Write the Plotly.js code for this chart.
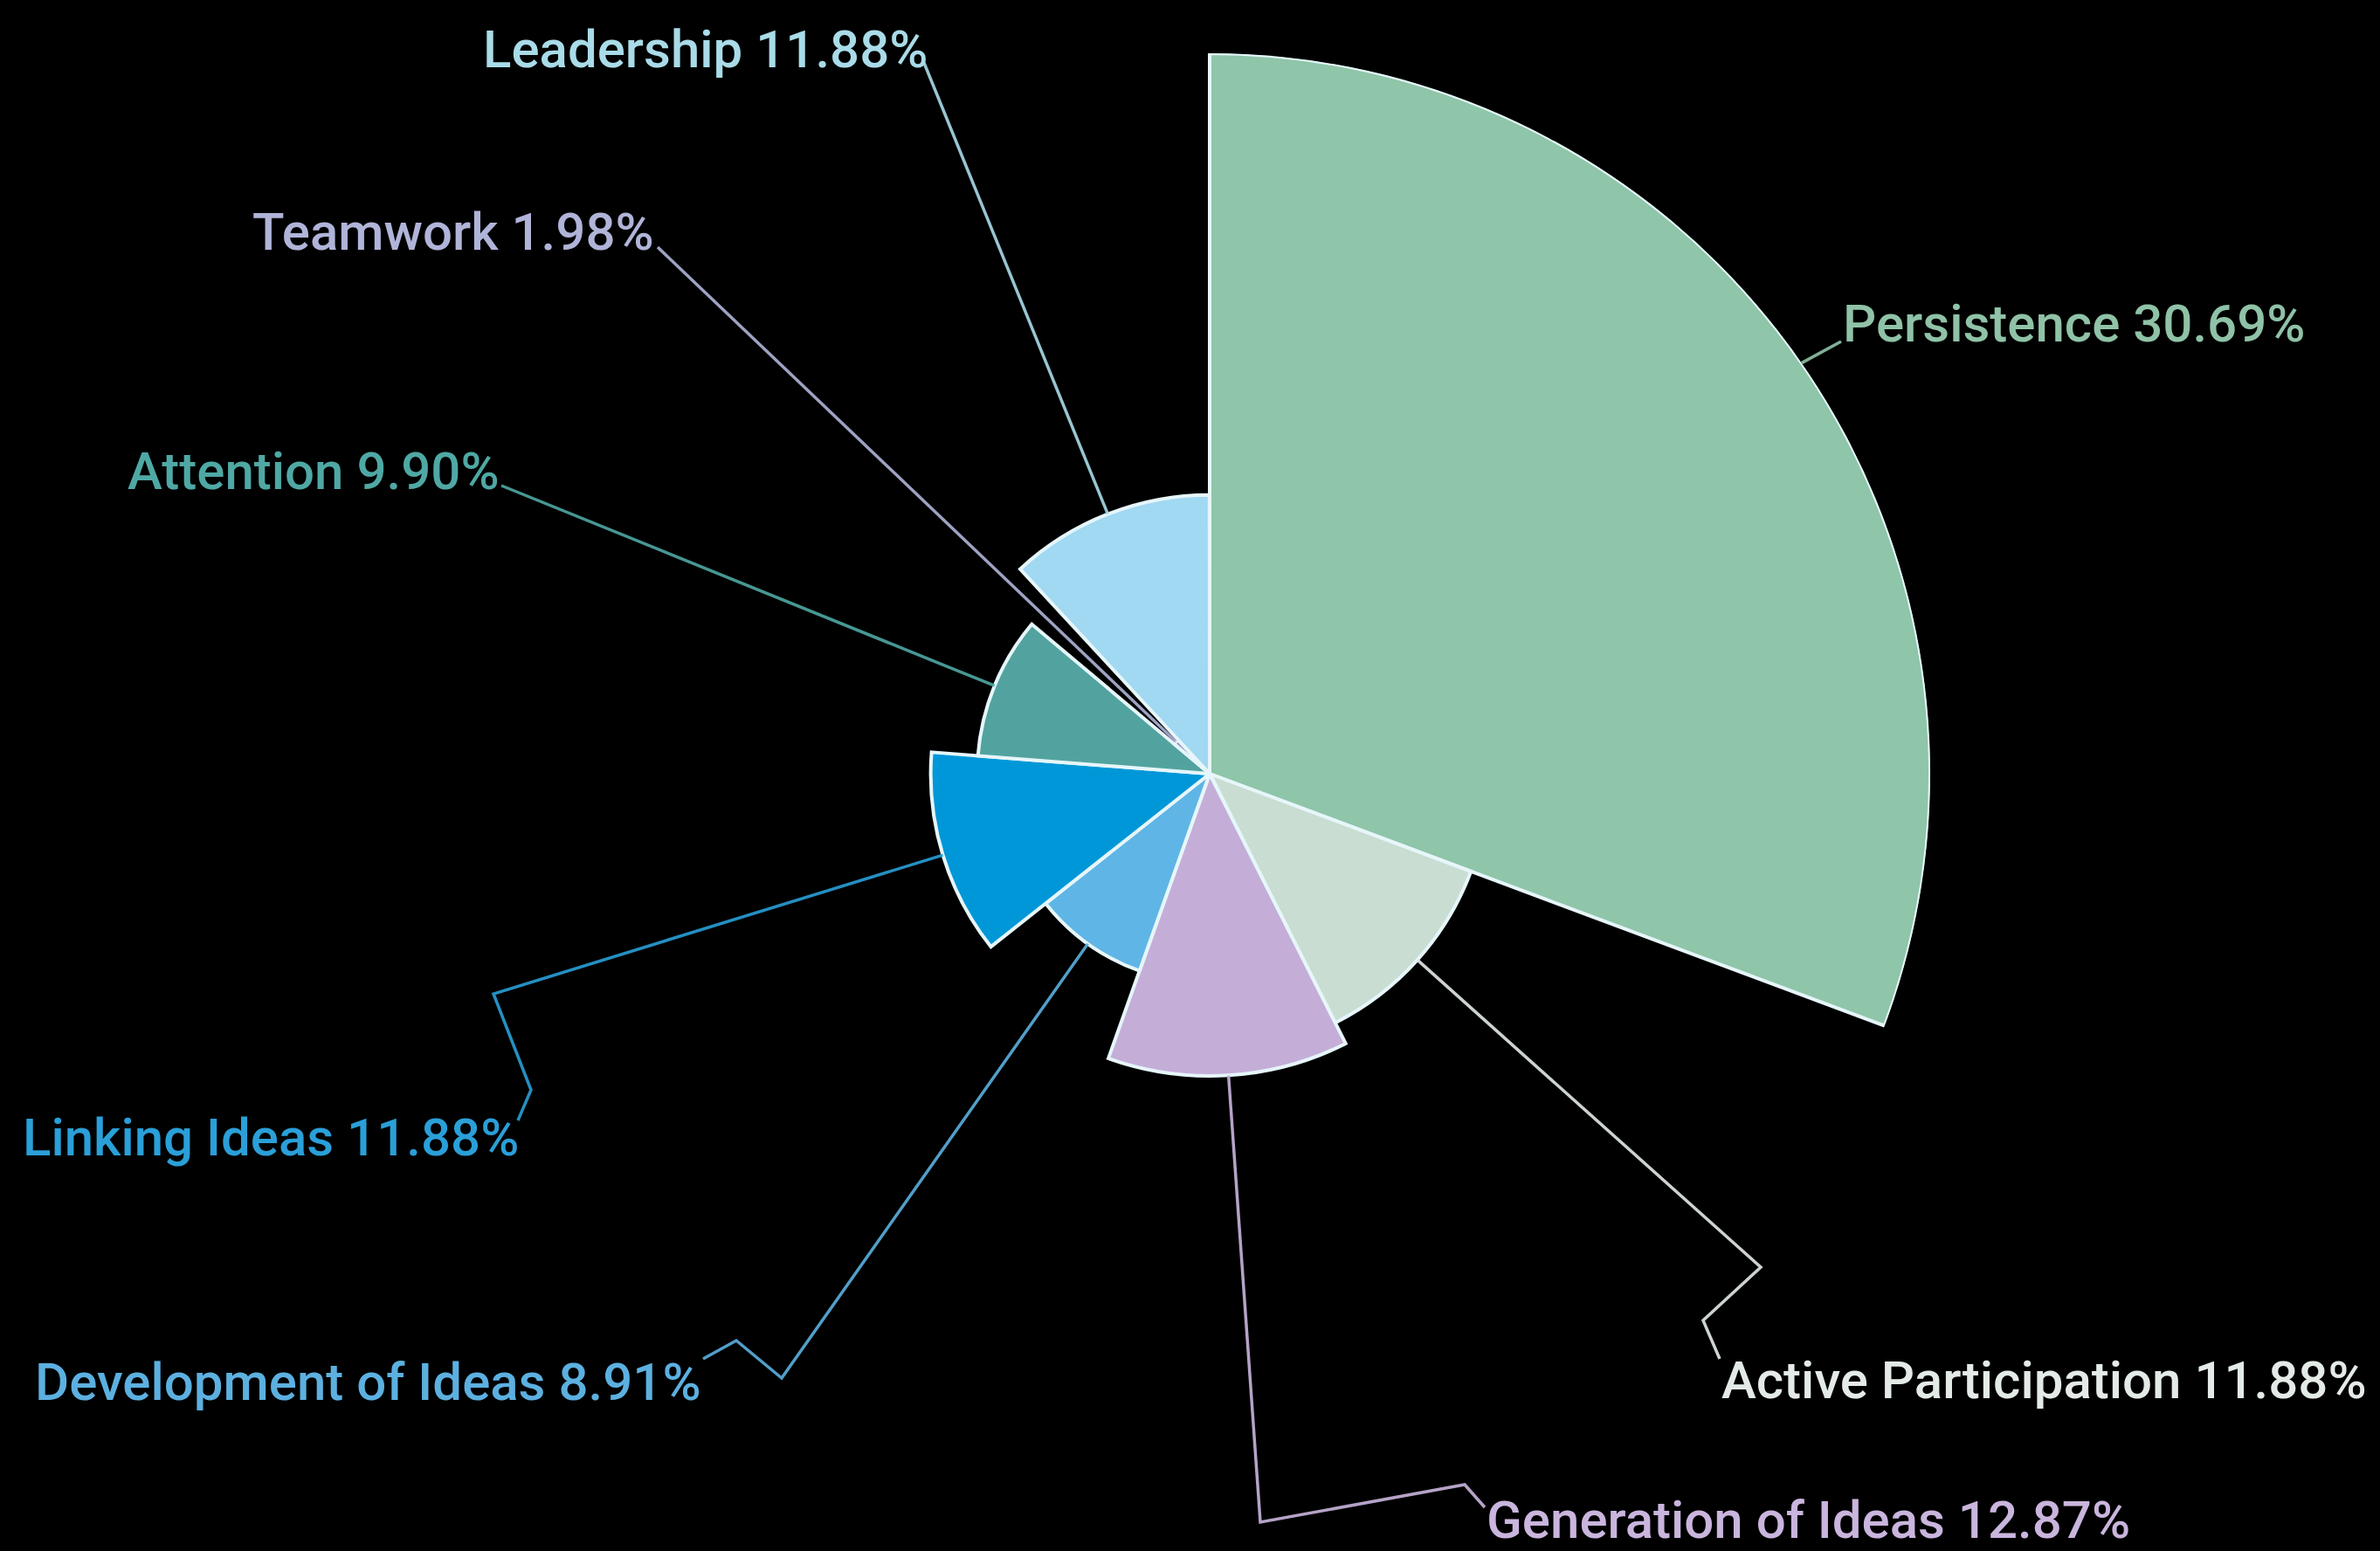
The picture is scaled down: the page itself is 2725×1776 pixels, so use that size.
<!DOCTYPE html>
<html>
<head>
<meta charset="utf-8">
<script src="https://cdn.plot.ly/plotly-3.0.1.min.js"></script>
<style>html,body{margin:0;padding:0;background:#000;}#chart{width:2725px;height:1776px;}</style>
</head>
<body>
<div id="chart"></div>
<script>
// ---- data ----
var categories = ["Persistence", "Active Participation", "Generation of Ideas", "Development of Ideas", "Linking Ideas", "Attention", "Teamwork", "Leadership"];
var percents = [30.69, 11.88, 12.87, 8.91, 11.88, 9.90, 1.98, 11.88];
var sliceColors = ["#8fc5a9", "#c9ddd2", "#c4aed8", "#5fb5e5", "#0097d8", "#52a39f", "#9b9cc4", "#a1d8f2"];
var labelColors = ["#8fc2a7", "#e4ebe7", "#c9b5dd", "#5cb0e0", "#2a9fd8", "#4fa8a4", "#b0b4d8", "#a9dbe8"];

// ---- layout constants ----
var W = 2725, H = 1776;
var CX = 1385, CY = 886, RPX = 825;   // polar centre & radius in px
var rMax = Math.max.apply(null, percents);

// angles: width proportional to percent, clockwise from 12 o'clock
var widths = percents.map(function (p) { return p * 3.6; });
var centers = [];
var acc = 0;
widths.forEach(function (w) { centers.push(acc + w / 2); acc += w; });

function px(x) { return x / W; }
function py(y) { return 1 - y / H; }
function polarToPx(r, thetaDeg) {
  var a = thetaDeg * Math.PI / 180;
  var rr = r / rMax * RPX;
  return [CX + rr * Math.sin(a), CY - rr * Math.cos(a)];
}

// label anchor positions & elbow points (layout, px)
var labelPos = [
  {x: 2108, y: 370, anchor: "left",  path: [[2108, 391]]},
  {x: 1969, y: 1580, anchor: "left", path: [[1969, 1556], [1950, 1512], [2016, 1451]]},
  {x: 1700, y: 1740, anchor: "left", path: [[1700, 1726], [1677, 1700], [1443, 1743]]},
  {x: 805, y: 1582, anchor: "right", path: [[805, 1556], [843, 1535], [895, 1578]]},
  {x: 596, y: 1302, anchor: "right", path: [[593, 1283], [608, 1248], [565, 1138]]},
  {x: 574, y: 539, anchor: "right",  path: [[574, 556]]},
  {x: 751, y: 266, anchor: "right",  path: [[753, 283]]},
  {x: 1064, y: 56, anchor: "right",  path: [[1058, 72]]}
];

var shapes = [];
var annotations = [];
categories.forEach(function (c, i) {
  var end = polarToPx(percents[i], centers[i]);
  var pts = labelPos[i].path.concat([end]);
  var d = "M " + px(pts[0][0]) + "," + py(pts[0][1]);
  for (var k = 1; k < pts.length; k++) d += " L " + px(pts[k][0]) + "," + py(pts[k][1]);
  shapes.push({type: "path", xref: "paper", yref: "paper", path: d,
    line: {color: labelColors[i], width: 3.5}, opacity: 0.9, layer: "above"});
  annotations.push({
    xref: "paper", yref: "paper", x: px(labelPos[i].x), y: py(labelPos[i].y),
    xanchor: labelPos[i].anchor, yanchor: "middle", showarrow: false,
    text: c + " " + percents[i].toFixed(2) + "%",
    font: {family: "Roboto", size: 60, color: labelColors[i], weight: 500}
  });
});

var trace = {
  type: "barpolar",
  r: percents,
  theta: centers,
  width: widths,
  text: categories,
  marker: {color: sliceColors, line: {color: "#e6f6fa", width: 4}},
  hoverinfo: "text"
};

var layout = {
  width: W, height: H,
  paper_bgcolor: "#000", plot_bgcolor: "#000",
  margin: {l: 0, r: 0, t: 0, b: 0},
  showlegend: false,
  polar: {
    domain: {x: [px(CX - RPX), px(CX + RPX)], y: [py(CY + RPX), py(CY - RPX)]},
    bgcolor: "#000",
    angularaxis: {direction: "clockwise", rotation: 90, visible: false, showgrid: false},
    radialaxis: {range: [0, rMax], visible: false, showgrid: false},
    bargap: 0
  },
  shapes: shapes,
  annotations: annotations
};

Plotly.newPlot("chart", [trace], layout, {displayModeBar: false, staticPlot: true});
</script>
</body>
</html>
